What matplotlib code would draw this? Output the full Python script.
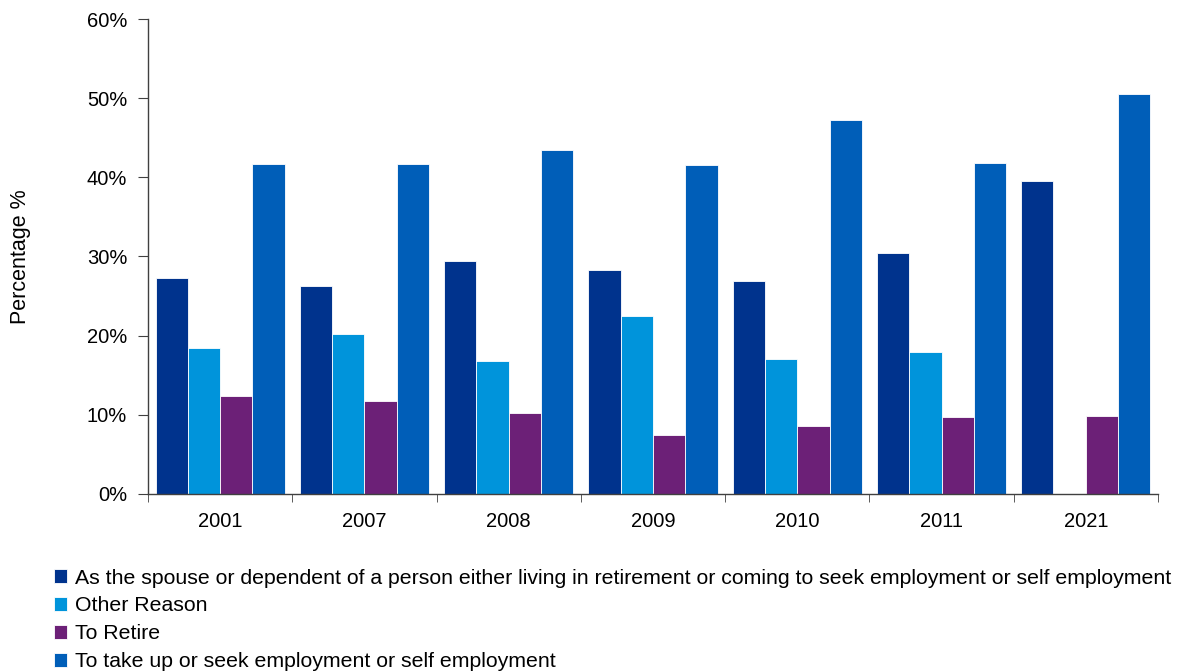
import numpy as np
import matplotlib.pyplot as plt

plt.rcParams["font.family"] = ["Liberation Sans", "DejaVu Sans"]

years = ["2001", "2007", "2008", "2009", "2010", "2011", "2021"]
spouse = [27.3, 26.3, 29.4, 28.3, 26.9, 30.4, 39.5]
other = [18.4, 20.2, 16.8, 22.5, 17.0, 17.9, np.nan]
retire = [12.4, 11.7, 10.2, 7.5, 8.6, 9.7, 9.8]
employment = [41.7, 41.7, 43.4, 41.5, 47.3, 41.8, 50.5]

series = [
    ("As the spouse or dependent of a person either living in retirement or coming to seek employment or self employment", spouse, "#00338D"),
    ("Other Reason", other, "#0094DB"),
    ("To Retire", retire, "#6C2077"),
    ("To take up or seek employment or self employment", employment, "#005EB8"),
]

fig = plt.figure(figsize=(11.84, 6.72), dpi=100)
ax = fig.add_axes([0.125, 0.265, 0.853, 0.7067])

x = np.arange(len(years))
width = 0.224
for i, (label, vals, color) in enumerate(series):
    ax.bar(x + (i - 1.5) * width, vals, width, color=color, label=label,
           edgecolor="white", linewidth=0.6)

ax.set_xlim(-0.5, len(years) - 0.5)
ax.set_ylim(0, 60)
ax.set_yticks(np.arange(0, 61, 10))
ax.set_yticklabels([f"{v}%" for v in range(0, 61, 10)])
ax.set_xticks(x)
ax.set_xticklabels(years)
ax.set_xticks(np.arange(-0.5, len(years)), minor=True)
ax.tick_params(axis="x", which="major", length=0, pad=13, labelsize=14.5)
ax.tick_params(axis="x", which="minor", length=6, color="#404040")
ax.tick_params(axis="y", length=7, pad=8, labelsize=14.5, color="#404040")

for side in ("top", "right"):
    ax.spines[side].set_visible(False)
for side in ("left", "bottom"):
    ax.spines[side].set_color("#404040")
    ax.spines[side].set_linewidth(1.0)

ax.set_ylabel("Percentage %", fontsize=15.5, labelpad=40)

fig.legend(loc="upper left", bbox_to_anchor=(0.046, 0.154), frameon=False,
           fontsize=15.3, handlelength=0.6, handleheight=0.6,
           handletextpad=0.35, labelspacing=0.42, borderpad=0, borderaxespad=0)

fig.savefig("out.png", dpi=100)
